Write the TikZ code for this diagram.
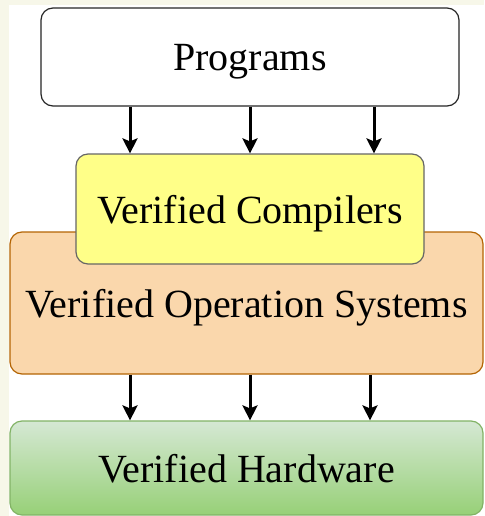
\documentclass[tikz,border=0pt]{standalone}
\usepackage{fontspec}
\setmainfont{Liberation Serif}
\usetikzlibrary{positioning}
\usetikzlibrary{arrows.meta}
\definecolor{pagebg}{HTML}{F7F7E9}
\definecolor{compfill}{HTML}{FFFF88}
\definecolor{osfill}{HTML}{FAD7AC}
\definecolor{osline}{HTML}{B46504}
\definecolor{hwtop}{HTML}{D5E8D4}
\definecolor{hwbot}{HTML}{97D077}
\definecolor{hwline}{HTML}{82B366}

\begin{document}
\begin{tikzpicture}[x=1pt, y=-1pt,
		layer/.style = {draw, rounded corners=12pt, inner sep=0pt, line width=1.2pt,
			font=\fontsize{40}{46}\selectfont, text height=28pt, text depth=0pt},
		flow/.style = {line width=3pt, -{Stealth[length=15pt, width=15pt, inset=3pt]}}]
	\fill[pagebg] (0,0) rectangle (484,516);
	\fill[white] (9,5) rectangle (484,516);
	\node[layer, fill=white, draw=black!85, minimum width=418pt, minimum height=98pt] (prog) at (250,57) {Programs};
	\node[layer, fill=osfill, draw=osline, minimum width=473pt, minimum height=142pt] (os) at (246.5,303) {Verified Operation Systems};
	\node[layer, fill=compfill, draw=black!60, minimum width=348pt, minimum height=110pt] (comp) at (250,209) {Verified Compilers};
	\node[layer, top color=hwtop, bottom color=hwbot, draw=hwline, minimum width=473pt, minimum height=94pt] (hw) at (246.5,468) {Verified Hardware};
	\foreach \x in {130,250,374}
		\draw[flow] (prog.south -| \x,0) -- (comp.north -| \x,0);
	\foreach \x in {130,250,370}
		\draw[flow] (os.south -| \x,0) -- (hw.north -| \x,0);
\end{tikzpicture}
\end{document}
